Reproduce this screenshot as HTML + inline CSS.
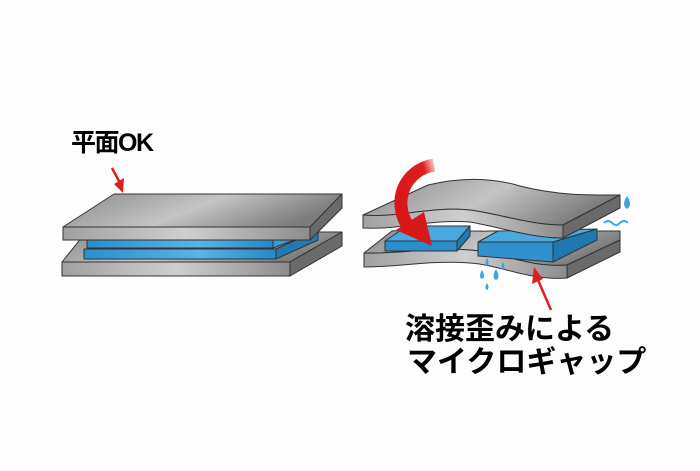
<!DOCTYPE html>
<html><head><meta charset="utf-8"><style>
html,body{margin:0;padding:0;background:#fdfdfd;width:700px;height:471px;overflow:hidden}
</style></head><body>
<svg width="700" height="471" viewBox="0 0 700 471" xmlns="http://www.w3.org/2000/svg">
<defs>
<linearGradient id="gt" x1="0" y1="0" x2="1" y2="0.3"><stop offset="0" stop-color="#8a8a8a"/><stop offset="0.55" stop-color="#c4c4c4"/><stop offset="1" stop-color="#7c7c7c"/></linearGradient>
<linearGradient id="gf" x1="0" y1="0" x2="1" y2="0"><stop offset="0" stop-color="#a0a0a0"/><stop offset="0.5" stop-color="#cfcfcf"/><stop offset="1" stop-color="#8c8c8c"/></linearGradient>
<linearGradient id="gb" x1="0" y1="0" x2="1" y2="0"><stop offset="0" stop-color="#2a8fcc"/><stop offset="0.6" stop-color="#5ab4e6"/><stop offset="1" stop-color="#2488c4"/></linearGradient>
<linearGradient id="gr" x1="1" y1="0" x2="0" y2="0.6"><stop offset="0" stop-color="#f5c0b0"/><stop offset="0.25" stop-color="#e02020"/><stop offset="1" stop-color="#d81818"/></linearGradient>
</defs>
<rect width="700" height="471" fill="#fdfdfd"/>
<g stroke="#333" stroke-width="1" stroke-linejoin="round">
<polygon points="86,232 342,232 290,262 62,262" fill="url(#gt)"/>
<polygon points="62,262 290,262 290,276 62,276" fill="url(#gf)"/>
<polygon points="290,262 342,232 342,246 290,276" fill="#6a6a6a"/>
<polygon points="84,249 276,249 276,259 84,259" fill="url(#gb)"/>
<polygon points="276,249 318,230 318,240 276,259" fill="#2479b0"/>
<polygon points="87,238 273,238 273,248 87,248" fill="url(#gb)"/>
<polygon points="273,238 316,222 316,232 273,248" fill="#3a9ad4"/>
<polygon points="114,194 342,194 310,227 63,227" fill="url(#gt)"/>
<polygon points="63,227 310,227 310,240 63,240" fill="url(#gf)"/>
<polygon points="310,227 342,194 342,208 310,240" fill="#6a6a6a"/>
<path d="M392,231 C430,228 460,232 490,231 L620,231 L620,240 L567,265 C530,268 500,252 470,250 C430,247 400,254 364,253 Z" fill="url(#gt)"/>
<path d="M364,253 C400,254 430,247 470,250 C500,252 530,268 567,265 L567,278 C530,281 500,265 470,263 C430,260 400,267 364,267 Z" fill="url(#gf)"/>
<polygon points="567,265 620,240 620,252 567,278" fill="#6a6a6a"/>
<polygon points="407,226 470,226 457,241 385,241" fill="#48a8e0"/>
<polygon points="385,241 457,241 457,251 385,251" fill="#2b8dcc"/>
<polygon points="457,241 470,226 470,236 457,251" fill="#1f78b0"/>
<polygon points="498,231 597,229 553,242 478,242" fill="#48a8e0"/>
<polygon points="478,242 553,242 553,262 478,256" fill="#2f92cf"/>
<polygon points="553,242 597,229 597,240 553,262" fill="#1f78b0"/>
<path d="M428,185 C470,175 500,180 520,186 C560,196 590,195 620,195 L563,225 C530,225 500,214 470,210 C430,206 400,218 363,215 Z" fill="url(#gt)"/>
<path d="M363,215 C400,218 430,206 470,210 C500,214 530,225 563,225 L563,238 C530,238 500,227 470,222 C430,219 400,230 363,228 Z" fill="url(#gf)"/>
<polygon points="563,225 620,195 620,208 563,238" fill="#6a6a6a"/>
</g>
<path d="M434,165 C404,170 392,202 408,226" fill="none" stroke="url(#gr)" stroke-width="13"/>
<polygon points="396,230 424,212 432,246" fill="#d81818"/>
<line x1="112" y1="168" x2="120" y2="183" stroke="#e02020" stroke-width="2.5"/>
<polygon points="114,184 124,178 123,193" fill="#e02020"/>
<line x1="551" y1="310" x2="538" y2="280" stroke="#e02020" stroke-width="2.5"/>
<polygon points="532,284 543,279 534,267" fill="#e02020"/>
<g fill="#3fa3dc">
<path d="M627,196 q-6,9 0,13 q6,-4 0,-13z"/>
<path d="M487,258 q-3,6 0,8 q3,-2 0,-8z"/>
<path d="M503,262 q-3,6 0,8 q3,-2 0,-8z"/>
<path d="M482,270 q-4,7 0,9 q4,-2 0,-9z"/>
<path d="M496,269 q-5,9 0,11 q5,-2 0,-11z"/>
<path d="M487,283 q-3,5 0,7 q3,-2 0,-7z"/>
</g>
<path d="M604,223 q4,-4 8,0 t8,0 t8,0" fill="none" stroke="#3fa3dc" stroke-width="1.8"/>
<g font-family="'Liberation Sans','Noto Sans CJK JP',sans-serif" font-weight="bold" fill="#000">
<text x="71" y="151" font-size="25" letter-spacing="-1.5">平面OK</text>
<text x="405" y="339" font-size="30">溶接歪みによる</text>
<text x="407" y="372" font-size="30">マイクロギャップ</text>
</g>
</svg>
</body></html>
